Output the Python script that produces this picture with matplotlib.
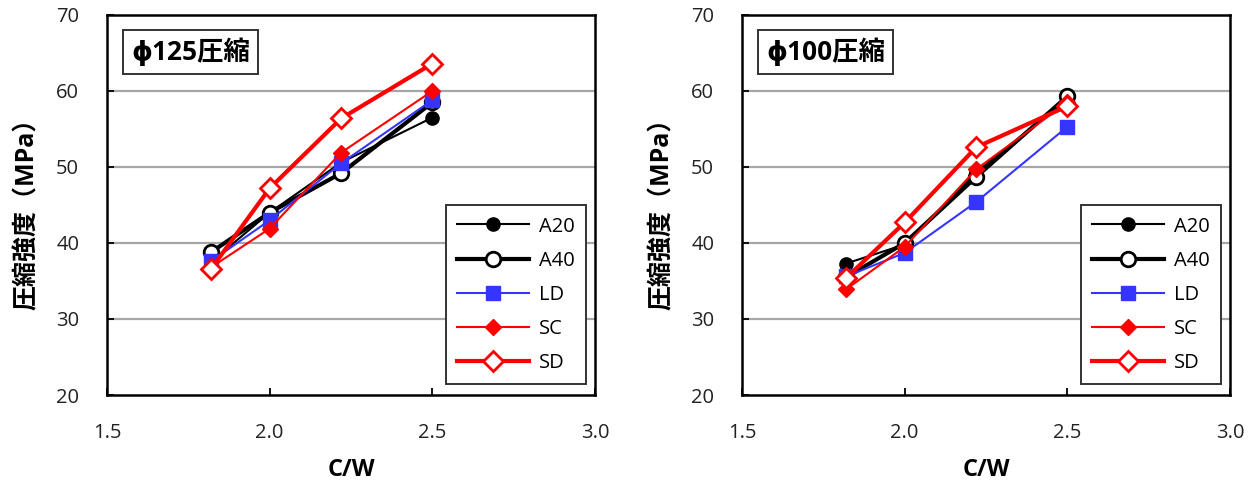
import matplotlib
matplotlib.use("Agg")
import matplotlib.pyplot as plt

# ---- data ----
cw = [1.82, 2.0, 2.22, 2.5]
series_names = ["A20", "A40", "LD", "SC", "SD"]

phi125_A20 = [37.5, 44.0, 50.6, 56.5]
phi125_A40 = [38.8, 44.0, 49.2, 58.5]
phi125_LD = [37.6, 43.0, 50.5, 58.8]
phi125_SC = [36.8, 41.9, 51.9, 60.0]
phi125_SD = [36.6, 47.2, 56.4, 63.6]

phi100_A20 = [37.3, 39.8, 49.3, 59.0]
phi100_A40 = [35.5, 40.0, 48.7, 59.3]
phi100_LD = [35.6, 38.7, 45.4, 55.3]
phi100_SC = [33.9, 39.5, 49.7, 58.5]
phi100_SD = [35.4, 42.7, 52.6, 58.0]

panel_titles = ["ϕ125圧縮", "ϕ100圧縮"]
xticks = [1.5, 2.0, 2.5, 3.0]
xticklabels = ["1.5", "2.0", "2.5", "3.0"]
yticks = [20, 30, 40, 50, 60, 70]
ylabel = "圧縮強度（MPa）"
xlabel = "C/W"

FONT = ["Open Sans", "Noto Sans CJK JP", "DejaVu Sans"]
plt.rcParams["font.family"] = FONT

styles = {
    "A20": dict(color="black", lw=1.5, marker="o", ms=9.5, mfc="black", mec="black", mew=1),
    "A40": dict(color="black", lw=3.0, marker="o", ms=10.5, mfc="white", mec="black", mew=2),
    "LD": dict(color="#3535ff", lw=1.5, marker="s", ms=9.5, mfc="#3535ff", mec="#3535ff", mew=1),
    "SC": dict(color="#ff0000", lw=1.5, marker="D", ms=8, mfc="#ff0000", mec="#ff0000", mew=1),
    "SD": dict(color="#ff0000", lw=3.0, marker="D", ms=10.5, mfc="white", mec="#ff0000", mew=2),
}

fig = plt.figure(figsize=(12.56, 4.86), dpi=100)
W, H = 1256, 486

panels = [
    (107, [phi125_A20, phi125_A40, phi125_LD, phi125_SC, phi125_SD]),
    (742, [phi100_A20, phi100_A40, phi100_LD, phi100_SC, phi100_SD]),
]

for i, (left_px, data) in enumerate(panels):
    ax = fig.add_axes([left_px / W, (H - 395) / H, 488 / W, 380 / H])
    ax.set_xlim(1.5, 3.0)
    ax.set_ylim(20, 70)
    for y in [30, 40, 50, 60]:
        ax.axhline(y, color="#a6a6a6", lw=1.6, zorder=0)
    for name, vals in zip(series_names, data):
        ax.plot(cw, vals, label=name, zorder=3, **styles[name])
    ax.set_xticks(xticks)
    ax.set_xticklabels(xticklabels)
    ax.set_yticks(yticks)
    ax.tick_params(direction="in", length=5, width=1.3, labelsize=14.5,
                   labelcolor="#222222")
    ax.tick_params(axis="x", pad=20)
    ax.tick_params(axis="y", pad=20)
    for sp in ax.spines.values():
        sp.set_linewidth(1.8)
        sp.set_color("black")
    ax.text(0.05, 0.94, panel_titles[i], transform=ax.transAxes,
            fontsize=19, fontweight="bold", va="top", ha="left",
            bbox=dict(boxstyle="square,pad=0.3", fc="white", ec="#333333", lw=1.4),
            zorder=5)
    leg = ax.legend(loc="lower right", bbox_to_anchor=(0.982, 0.029),
                    borderaxespad=0, fontsize=14.5, handlelength=3.6,
                    labelspacing=0.7, handletextpad=0.5, borderpad=0.55,
                    fancybox=False, edgecolor="#333333", framealpha=1)
    leg.get_frame().set_linewidth(1.4)
    leg.set_zorder(6)
    cx = (left_px + 244) / W
    fig.text(cx, 16 / H, xlabel, ha="center", va="center",
             fontsize=17, fontweight="bold")
    fig.text((left_px - 80) / W, (H - 208) / H, ylabel, rotation=90,
             ha="center", va="center", fontsize=18, fontweight="bold")

fig.savefig("out.png", dpi=100, facecolor="white")
